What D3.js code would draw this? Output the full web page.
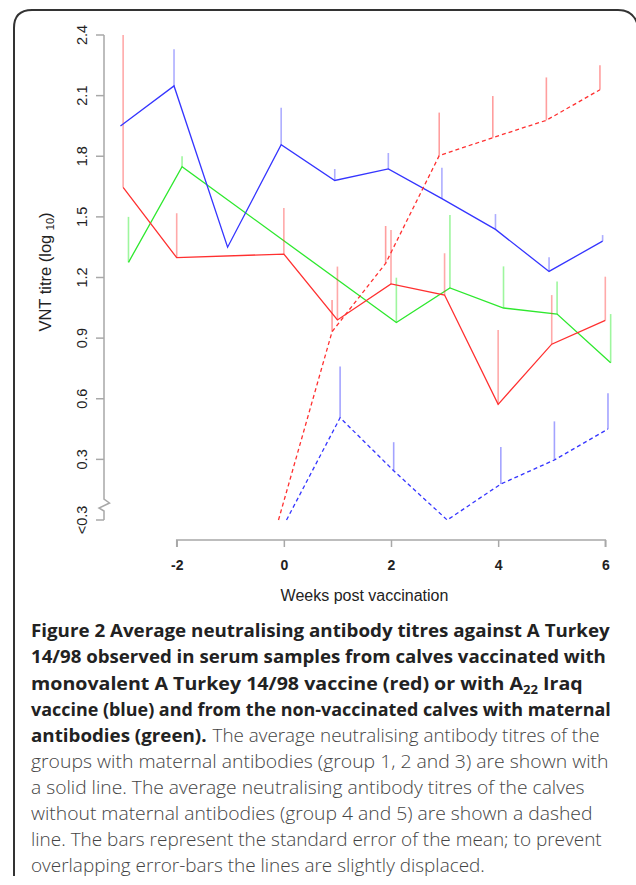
<!DOCTYPE html>
<html><head><meta charset="utf-8">
<script src="https://cdn.jsdelivr.net/npm/d3@7"></script>
<style>
html,body{margin:0;padding:0;background:#fff;}
svg{display:block;}
</style></head>
<body>
<svg id="c" width="636" height="885"></svg>
<script>
// ---------- data ----------
const xTicks = [-2, 0, 2, 4, 6];
const xTickLabels = ["-2", "0", "2", "4", "6"];
const yTicks = [0, 0.3, 0.6, 0.9, 1.2, 1.5, 1.8, 2.1, 2.4];
const yTickLabels = ["<0.3", "0.3", "0.6", "0.9", "1.2", "1.5", "1.8", "2.1", "2.4"];

// A Turkey 14/98 vaccine, with maternal antibodies (red, solid)
const redSolidWeeks = [-3, -2, 0, 1, 2, 3, 4, 5, 6];
const redSolidMean  = [1.646, 1.298, 1.316, 0.990, 1.168, 1.113, 0.572, 0.870, 0.988];
const redSolidUpper = [2.400, 1.518, 1.544, 1.254, 1.435, 1.320, 0.940, 1.113, 1.204];

// A22 Iraq vaccine, with maternal antibodies (blue, solid)
const blueSolidWeeks = [-3, -2, -1, 0, 1, 2, 3, 4, 5, 6];
const blueSolidMean  = [1.950, 2.148, 1.350, 1.857, 1.680, 1.737, 1.590, 1.438, 1.230, 1.380];
const blueSolidUpper = [null, 2.330, null, 2.040, 1.737, 1.816, 1.743, 1.514, 1.300, 1.410];

// non-vaccinated, maternal antibodies (green, solid)
const greenWeeks = [-3, -2, 2, 3, 4, 5, 6];
const greenMean  = [1.275, 1.748, 0.977, 1.148, 1.049, 1.019, 0.778];
const greenUpper = [1.500, 1.800, 1.199, 1.509, 1.255, 1.180, 1.019];

// A Turkey 14/98 vaccine, no maternal antibodies (red, dashed)
const redDashWeeks = [0, 1, 2, 3, 4, 5, 6];
const redDashMean  = [0.000, 0.932, 1.270, 1.803, 1.892, 1.978, 2.129];
const redDashUpper = [null, 1.089, 1.455, 2.016, 2.098, 2.190, 2.250];

// A22 Iraq vaccine, no maternal antibodies (blue, dashed)
const blueDashWeeks = [0, 1, 2, 3, 4, 5, 6];
const blueDashMean  = [0.000, 0.506, 0.244, 0.000, 0.178, 0.297, 0.450];
const blueDashUpper = [null, 0.759, 0.385, null, 0.361, 0.488, 0.627];

const xLabel = "Weeks post vaccination";

const captionLines = [
  [{t:"Figure 2 Average neutralising antibody titres against A Turkey", b:true}],
  [{t:"14/98 observed in serum samples from calves vaccinated with", b:true}],
  [{t:"monovalent A Turkey 14/98 vaccine (red) or with A", b:true},{t:"22", b:true, sub:true},{t:" Iraq", b:true}],
  [{t:"vaccine (blue) and from the non-vaccinated calves with maternal", b:true}],
  [{t:"antibodies (green).", b:true},{t:"The average neutralising antibody titres of the", b:false}],
  [{t:"groups with maternal antibodies (group 1, 2 and 3) are shown with", b:false}],
  [{t:"a solid line. The average neutralising antibody titres of the calves", b:false}],
  [{t:"without maternal antibodies (group 4 and 5) are shown a dashed", b:false}],
  [{t:"line. The bars represent the standard error of the mean; to prevent", b:false}],
  [{t:"overlapping error-bars the lines are slightly displaced.", b:false}]
];

// ---------- layout ----------
const svg = d3.select("#c");
const x = d3.scaleLinear().domain([-2, 6]).range([176.7, 605.3]);
const y = d3.scaleLinear().domain([0, 2.4]).range([520, 35]);
const axisX = 104;
const axisCol = "#a8a8a8";
const sans = "Liberation Sans, Arial, sans-serif";

// frame
svg.append("path")
  .attr("d", "M14,876 L14,28 Q14,10 32,10 L618,10 Q634,10 638,26")
  .attr("fill", "none").attr("stroke", "#333").attr("stroke-width", 2);

// y axis with break
const yTop = y(2.4), y0 = y(0);
svg.append("path")
  .attr("d", `M${axisX},${yTop} L${axisX},${y0-21} L${axisX+5.5},${y0-17} L${axisX-5},${y0-12} L${axisX},${y0-9} L${axisX},${y0}`)
  .attr("fill", "none").attr("stroke", axisCol).attr("stroke-width", 1.5);
svg.append("g").selectAll("line").data(yTicks).join("line")
  .attr("x1", axisX).attr("x2", axisX - 8)
  .attr("y1", d => y(d)).attr("y2", d => y(d))
  .attr("stroke", axisCol).attr("stroke-width", 1.5);
svg.append("g").selectAll("text").data(yTicks).join("text")
  .attr("transform", d => `translate(87,${y(d)}) rotate(-90)`)
  .attr("text-anchor", "middle")
  .attr("font-family", sans)
  .attr("font-size", 14.5).attr("fill", "#222")
  .text((d, i) => yTickLabels[i]);

// x axis
const xAxisY = 540;
const xAxis = d3.axisBottom(x).tickValues(xTicks).tickSize(7)
  .tickFormat((d, i) => xTickLabels[i]);
const gx = svg.append("g").attr("transform", `translate(0,${xAxisY})`).call(xAxis);
gx.select(".domain").attr("stroke", axisCol).attr("stroke-width", 1.5)
  .attr("d", `M${x(-2)},7V0H${x(6)}V7`);
gx.selectAll(".tick line").attr("stroke", axisCol).attr("stroke-width", 1.5);
gx.selectAll(".tick text").attr("font-family", sans)
  .attr("font-size", 14).attr("font-weight", "bold").attr("fill", "#222")
  .attr("dy", null).attr("y", 30);

// axis titles
svg.append("text").attr("x", 364.5).attr("y", 601)
  .attr("text-anchor", "middle")
  .attr("font-family", sans)
  .attr("font-size", 16).attr("fill", "#222").text(xLabel);

const yl = svg.append("text")
  .attr("transform", "translate(51,272) rotate(-90)")
  .attr("text-anchor", "middle")
  .attr("font-family", sans)
  .attr("font-size", 16.5).attr("fill", "#222");
yl.append("tspan").text("VNT titre (log ");
yl.append("tspan").attr("font-size", 11).attr("dy", 3).text("10");
yl.append("tspan").attr("dy", -3).text(")");

// ---------- series ----------
const series = [
  {w: greenWeeks, m: greenMean, u: greenUpper, col: "#2ee82e", err: "rgba(40,235,40,0.45)", dash: null, off: 0.1},
  {w: redSolidWeeks, m: redSolidMean, u: redSolidUpper, col: "#ff3030", err: "rgba(255,40,40,0.4)", dash: null, off: 0},
  {w: blueSolidWeeks, m: blueSolidMean, u: blueSolidUpper, col: "#3535ff", err: "rgba(50,50,255,0.4)", dash: null, off: -0.05},
  {w: redDashWeeks, m: redDashMean, u: redDashUpper, col: "#ff3030", err: "rgba(255,40,40,0.45)", dash: "4,3", off: -0.1},
  {w: blueDashWeeks, m: blueDashMean, u: blueDashUpper, col: "#3535ff", err: "rgba(50,50,255,0.45)", dash: "4,3", off: 0.05}
];

series.forEach(s => {
  const pts = s.w.map((w, i) => ({w: w + s.off, m: s.m[i], u: s.u[i]}));
  svg.append("g").selectAll("line").data(pts.filter(p => p.u != null)).join("line")
    .attr("x1", p => x(p.w)).attr("x2", p => x(p.w))
    .attr("y1", p => y(p.m)).attr("y2", p => y(p.u))
    .attr("stroke", s.err).attr("stroke-width", 1.6);
  svg.append("path").datum(pts)
    .attr("d", d3.line().x(p => x(p.w)).y(p => y(p.m)))
    .attr("fill", "none").attr("stroke", s.col).attr("stroke-width", 1.3)
    .attr("stroke-dasharray", s.dash);
});

// ---------- caption ----------
const capX = 31;
const capBase = [637, 663, 689.5, 716, 742, 768, 794, 820, 846, 872];
const capRight = [610, 606, 583, 611, 600, 609, 585, 593, 602, 485];
const capFont = "'Open Sans', 'Noto Sans', sans-serif";

function makeText(g, parts) {
  const t = g.append("text").attr("font-family", capFont).attr("font-size", 18);
  parts.forEach((p, k) => {
    const ts = t.append("tspan").text(p.t)
      .attr("font-weight", p.b ? 700 : 300)
      .attr("fill", p.b ? "#222" : "#444");
    if (p.sub) ts.attr("font-size", 12).attr("dy", 4);
    else if (k > 0 && parts[k - 1].sub) ts.attr("dy", -4);
  });
  return t;
}

let boldScale = 1;
captionLines.forEach((line, li) => {
  if (li === 4) {
    // bold lead-in uses the bold scale of line 1; regular remainder fills to the right edge
    const g1 = svg.append("g");
    const t1 = makeText(g1, [line[0]]);
    const w1 = t1.node().getComputedTextLength() * boldScale;
    g1.attr("transform", `translate(${capX},${capBase[li]}) scale(${boldScale},1)`);
    const x2 = capX + w1 + 6;
    const g2 = svg.append("g");
    const t2 = makeText(g2, [line[1]]);
    const w2 = t2.node().getComputedTextLength();
    g2.attr("transform", `translate(${x2},${capBase[li]}) scale(${(capRight[li] - x2) / w2},1)`);
  } else {
    const g = svg.append("g");
    const t = makeText(g, line);
    const w = t.node().getComputedTextLength();
    const sx = (capRight[li] - capX) / w;
    if (li === 0) boldScale = sx;
    g.attr("transform", `translate(${capX},${capBase[li]}) scale(${sx},1)`);
  }
});
</script>
</body></html>
